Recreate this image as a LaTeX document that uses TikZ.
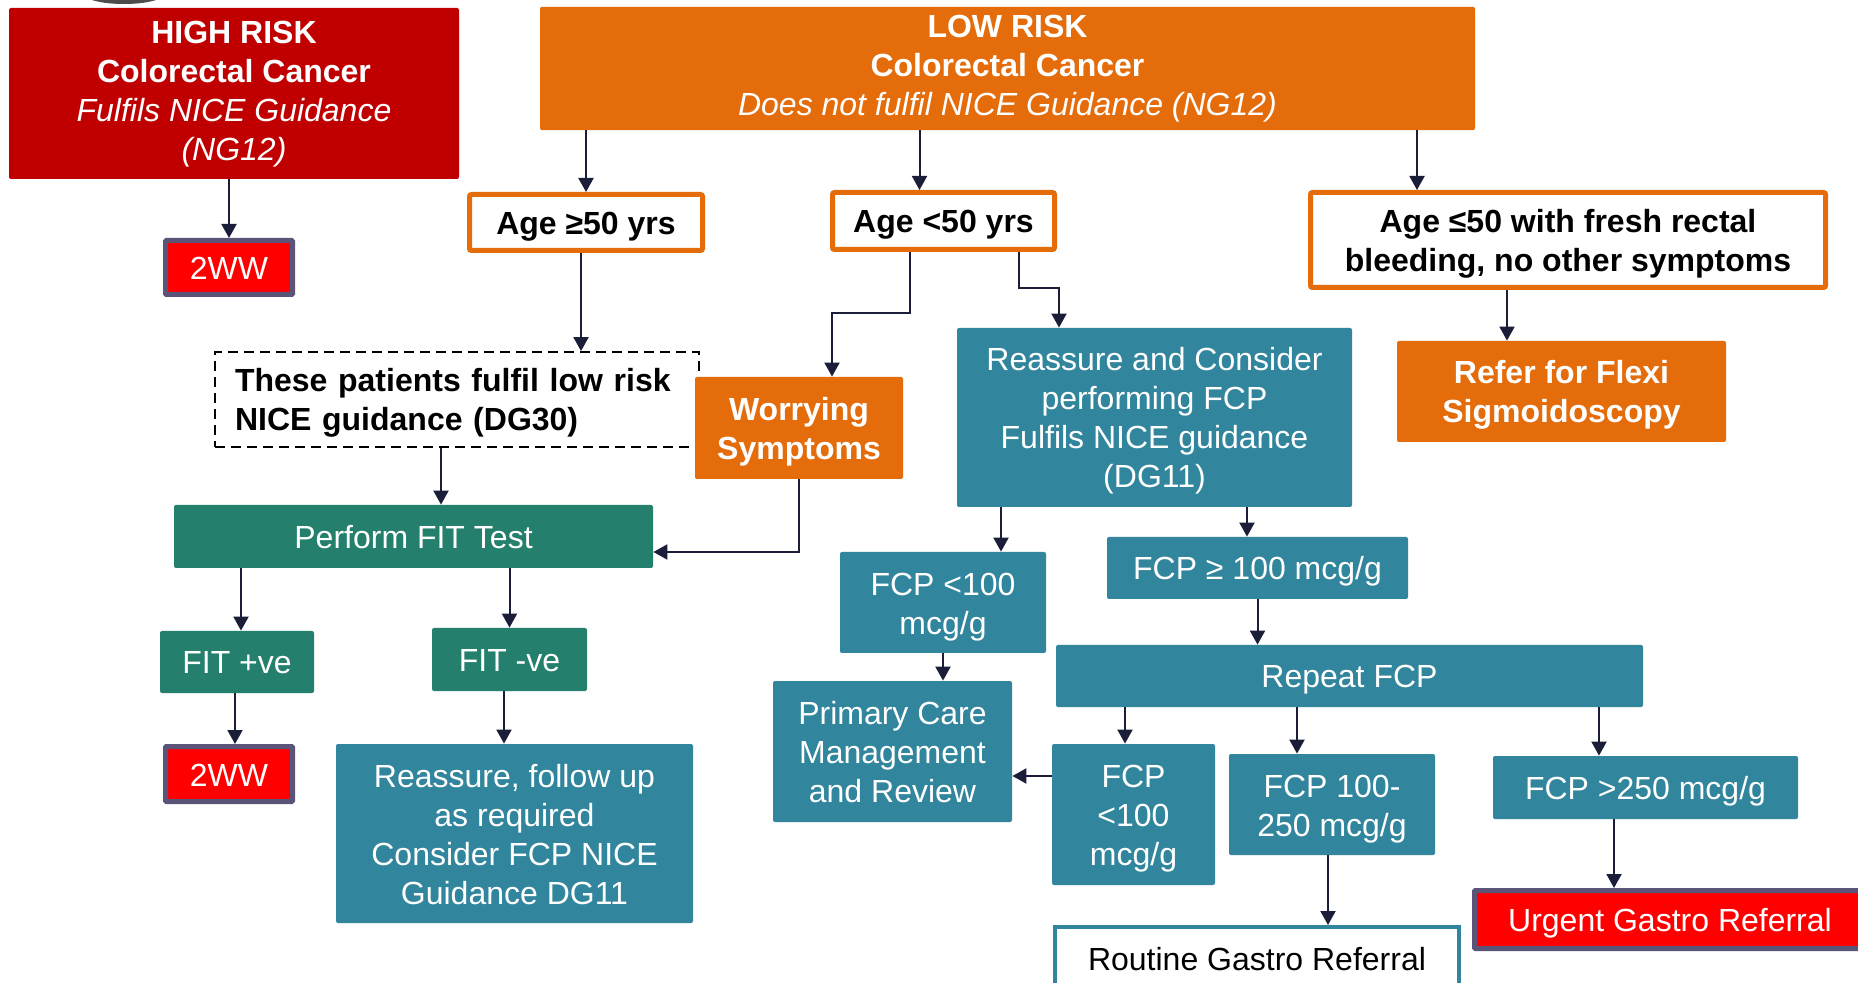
\documentclass[tikz,border=0pt]{standalone}
\usepackage{fontspec}
\setmainfont{Liberation Sans}
\usepackage{tikz}
\usetikzlibrary{shapes,arrows.meta}
\usetikzlibrary{positioning}
\usetikzlibrary{calc}

\definecolor{hired}{HTML}{C00000}
\definecolor{lowor}{HTML}{E46C0A}
\definecolor{fitgreen}{HTML}{24806C}
\definecolor{fcpteal}{HTML}{31859C}
\definecolor{wwframe}{HTML}{5A5478}
\definecolor{arrowc}{HTML}{1B1E38}

\newcommand{\boxfont}{\fontsize{16}{19.5}\selectfont}
% strut for first and last line of a box
\newcommand{\ps}{\rule[-3.4pt]{0pt}{18.8pt}}
\newcommand{\pe}[1]{\rule[-#1]{0pt}{0pt}}

\tikzstyle{box} = [rectangle, rounded corners=1pt, inner sep=0pt, align=center,
text=white, font=\boxfont]
\tikzstyle{highbox} = [box, fill=hired]
\tikzstyle{orbox} = [box, fill=lowor, font=\boxfont\bfseries]
\tikzstyle{agebox} = [box, draw=lowor, line width=2.5pt, fill=white, text=black,
font=\boxfont\bfseries]
\tikzstyle{fitbox} = [box, fill=fitgreen]
\tikzstyle{fcpbox} = [box, fill=fcpteal]
\tikzstyle{wwbox} = [box, rounded corners=0.5pt, fill=red, draw=wwframe, line width=2.5pt]
\tikzstyle{dashbox} = [box, rounded corners=0pt, draw=black, dash pattern=on 5pt off 3pt,
line width=0.9pt, text=black, align=left, font=\boxfont\bfseries]
\tikzstyle{routbox} = [box, rounded corners=0pt, draw=fcpteal, line width=2pt, fill=white, text=black]
\tikzstyle{line} = [draw=arrowc, line width=1pt, -{Triangle[length=7pt,width=7.5pt]}]

\begin{document}
\begin{tikzpicture}[x=0.5pt, y=-0.5pt]
    \fill [white] (0,0) rectangle (1858,983);
    \useasboundingbox (0,0) rectangle (1858,983);
    \fill [gray!60!black] (124,-6) ellipse (40 and 10);
    % risk groups
    \node [highbox, minimum width=225pt, minimum height=85.5pt] (high) at (234,93.5)
        {\ps\bfseries HIGH RISK\\\bfseries Colorectal Cancer\\\itshape Fulfils NICE Guidance\\\itshape (NG12)\pe{6.6pt}};
    \node [wwbox, minimum width=63.5pt, minimum height=27pt] (ww1) at (229,267.5) {\ps 2WW};
    \node [orbox, minimum width=467.5pt, minimum height=60.5pt] (low) at (1007.5,68.5)
        {\ps LOW RISK\\Colorectal Cancer\\\mdseries\itshape Does not fulfil NICE Guidance (NG12)\pe{7.2pt}};
    % age groups
    \node [agebox, minimum width=116.5pt, minimum height=28pt] (ageA) at (586,222.5) {\ps Age ≥50 yrs};
    \node [agebox, minimum width=111pt, minimum height=28.5pt] (ageB) at (943.5,221) {\ps Age <50 yrs};
    \node [agebox, minimum width=257.5pt, minimum height=47.5pt] (ageC) at (1568,240)
        {\ps Age ≤50 with fresh rectal\\bleeding, no other symptoms\ps};
    \node [orbox, minimum width=164.5pt, minimum height=50.5pt] (flexi) at (1561.5,391.5)
        {\ps Refer for Flexi\\Sigmoidoscopy\ps};
    % FIT branch
    \node [dashbox, minimum width=242pt, minimum height=47.5pt, text width=222pt] (dg30) at (457,399.5)
        {\ps These patients fulfil low risk\\NICE guidance (DG30)\ps};
    \node [orbox, minimum width=104pt, minimum height=51pt] (worry) at (799,428) {\ps Worrying\\Symptoms\ps};
    \node [fitbox, minimum width=239.5pt, minimum height=31.5pt] (fit) at (413.5,536.5) {\ps Perform FIT Test};
    \node [fitbox, minimum width=77pt, minimum height=31pt] (fitpos) at (237,662) {\ps FIT +ve};
    \node [fitbox, minimum width=77.5pt, minimum height=31.5pt] (fitneg) at (509.5,659.5) {\ps FIT -ve};
    \node [wwbox, minimum width=63.5pt, minimum height=27.5pt] (ww2) at (229,774) {\ps 2WW};
    \node [fcpbox, minimum width=178.5pt, minimum height=89.5pt] (reass) at (514.5,833.5)
        {\ps Reassure, follow up\\as required\\Consider FCP NICE\\Guidance DG11\ps};
    % FCP branch
    \node [fcpbox, minimum width=197.5pt, minimum height=89.5pt] (consid) at (1154.5,417.5)
        {\ps Reassure and Consider\\performing FCP\\Fulfils NICE guidance\\(DG11)\ps};
    \node [fcpbox, minimum width=103pt, minimum height=50.5pt] (fcpA) at (943,602.5) {\ps FCP <100\\mcg/g\ps};
    \node [fcpbox, minimum width=150.5pt, minimum height=31pt] (fcpB) at (1257.5,568) {\ps FCP ≥ 100 mcg/g};
    \node [fcpbox, minimum width=293.5pt, minimum height=31pt] (repeat) at (1349.5,676) {\ps Repeat FCP};
    \node [fcpbox, minimum width=119.5pt, minimum height=70.5pt] (primary) at (892.5,751.5)
        {\ps Primary Care\\Management\\and Review\ps};
    \node [fcpbox, minimum width=81.5pt, minimum height=70.5pt] (fcpC) at (1133.5,814.5) {\ps FCP\\<100\\mcg/g\ps};
    \node [fcpbox, minimum width=103pt, minimum height=50.5pt] (fcpD) at (1332,804.5) {\ps FCP 100-\\250 mcg/g\ps};
    \node [fcpbox, minimum width=152.5pt, minimum height=31.5pt] (fcpE) at (1645.5,787.5) {\ps FCP >250 mcg/g};
    \node [routbox, minimum width=202pt, minimum height=31pt] (routine) at (1257,958) {\ps Routine Gastro Referral};
    \node [wwbox, minimum width=195.5pt, minimum height=29pt] (urgent) at (1670,919.5) {\ps Urgent Gastro Referral};
    %% Arrows
    \path [line] (ww1.north |- high.south) -- (ww1.north);
    \path [line] (ageA.north |- low.south) -- (ageA.north);
    \path [line] ([xshift=-12pt]ageB.north |- low.south) -- ([xshift=-12pt]ageB.north);
    \path [line] ([xshift=-75.5pt]ageC.north |- low.south) -- ([xshift=-75.5pt]ageC.north);
    \path [line] ([xshift=-30.5pt]ageC.south) -- ([xshift=-30.5pt]ageC.south |- flexi.north);
    \path [line] ([xshift=-2.5pt]ageA.south) -- ([xshift=-2.5pt]ageA.south |- dg30.north);
    \path [line] ([xshift=-17pt]ageB.south) -- ++(0,61) -| ([xshift=16.5pt]worry.north);
    \path [line] ([xshift=37.75pt]ageB.south) -- ++(0,36) -| ([xshift=-47.75pt]consid.north);
    \path [line] ([xshift=-8pt]dg30.south) -- ([xshift=-8pt]dg30.south |- fit.north);
    \path [line] (worry.south) |- ([yshift=-7.75pt]fit.east);
    \path [line] ([xshift=2pt]fitpos.north |- fit.south) -- ([xshift=2pt]fitpos.north);
    \path [line] (fitneg.north |- fit.south) -- (fitneg.north);
    \path [line] ([xshift=-1pt]fitpos.south) -- ([xshift=-1pt]fitpos.south |- ww2.north);
    \path [line] ([xshift=-2.75pt]fitneg.south) -- ([xshift=-2.75pt]fitneg.south |- reass.north);
    \path [line] ([xshift=29pt]fcpA.north |- consid.south) -- ([xshift=29pt]fcpA.north);
    \path [line] ([xshift=-5.25pt]fcpB.north |- consid.south) -- ([xshift=-5.25pt]fcpB.north);
    \path [line] (fcpB.south) -- (fcpB.south |- repeat.north);
    \path [line] (fcpA.south) -- (fcpA.south |- primary.north);
    \path [line] ([xshift=-4.25pt]fcpC.north |- repeat.south) -- ([xshift=-4.25pt]fcpC.north);
    \path [line] ([xshift=-17.5pt]fcpD.north |- repeat.south) -- ([xshift=-17.5pt]fcpD.north);
    \path [line] ([xshift=-23.25pt]fcpE.north |- repeat.south) -- ([xshift=-23.25pt]fcpE.north);
    \path [line] ([yshift=19.25pt]fcpC.west) -- ([yshift=19.25pt]fcpC.west -| primary.east);
    \path [line] ([xshift=-2pt]fcpD.south) -- ([xshift=-2pt]fcpD.south |- routine.north);
    \path [line] ([xshift=-15.75pt]fcpE.south) -- ([xshift=-15.75pt]fcpE.south |- urgent.north);
\end{tikzpicture}
\end{document}
